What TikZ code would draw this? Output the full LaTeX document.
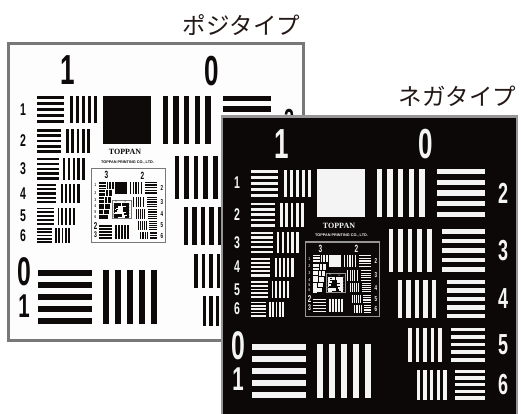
\documentclass[tikz,border=0pt]{standalone}
\usepackage{fontspec}
\newfontfamily\digf{Liberation Sans}
\newfontfamily\serf{Liberation Serif}
\newfontfamily\cjkf{Noto Sans CJK JP}
\definecolor{posfg}{RGB}{14,10,10}
\definecolor{posbg}{RGB}{253,253,253}
\definecolor{negfg}{RGB}{244,244,244}
\definecolor{negbg}{RGB}{12,8,8}
\definecolor{posframe}{RGB}{120,120,120}
\definecolor{negframe}{RGB}{150,150,150}
\definecolor{labc}{RGB}{35,24,21}
\tikzset{
  dig/.style={font=\digf\bfseries\fontsize{#1}{#1}\selectfont, inner sep=0pt, xscale=0.62, transform shape, text=fg},
  lab/.style={font=\cjkf\fontsize{23.5}{24}\selectfont, text=labc, inner sep=0pt},
  maker/.style={font=\serf\bfseries\fontsize{8}{8}\selectfont, text=fg, inner sep=0pt, transform shape},
  makersub/.style={font=\digf\bfseries\fontsize{3.8}{4}\selectfont, text=fg, inner sep=0pt, transform shape},
}
% horizontal / vertical bar elements: x, y (top-left), size
\newcommand\hb[3]{\foreach \k in {0,...,4}{\fill[fg] (#1,{#2+2*\k*#3/9}) rectangle ++(#3,{#3/9});}}
\newcommand\vb[3]{\foreach \k in {0,...,4}{\fill[fg] ({#1+2*\k*#3/9},#2) rectangle ++({#3/9},#3);}}
\newcommand\chartcontent[1]{%
  \fill[bg] (0,0) rectangle (295,\chH);
  \draw[fr, line width=\flw] (0,0) rectangle (295,\chH);
  \node[dig=42] (\chp-#1-tl) at (60,27.5) {\number\numexpr2*#1+1\relax};
  \node[dig=42] (\chp-#1-tr) at (204,28) {\number\numexpr2*#1\relax};
  % left group
  \hb{29}{53}{27}\vb{62}{53}{27}
  \hb{29}{86}{24}\vb{58}{86}{24}
  \hb{29}{115}{21.5}\vb{55}{115}{21.5}
  \hb{29}{141}{19}\vb{52.5}{141}{19}
  \hb{29}{164.5}{17}\vb{49.5}{164.5}{17}
  \hb{29}{185}{15}\vb{47}{185}{15}
  \foreach \n/\yy in {1/66.5,2/98,3/125.75,4/150.5,5/173,6/192.5}{
    \node[dig=17] (\chp-#1-r\n) at (15,\yy) {\n};}
  % white square
  \fill[fg] (95,52.5) rectangle ++(48,48);
  % right group
  \vb{154.5}{52.5}{48}\hb{214.5}{52.5}{48}
  \vb{166.5}{112.5}{43}\hb{220}{112.5}{43}
  \vb{176}{163.5}{38}\hb{225}{163.5}{38}
  \vb{186}{211}{34}\hb{229}{211}{34}
  \vb{194.5}{253}{30}\hb{233}{253}{30}
  \foreach \n/\yy in {2/76.5,3/134,4/182.5,5/228,6/268}{
    \node[dig=29] (\chp-#1-q\n) at (281,\yy) {\n};}
  % bottom-left element
  \hb{29.5}{227}{54}\vb{95}{227}{54}
  \node[dig=40] (\chp-#1-bl0) at (16,229) {\number\numexpr2*#1\relax};
  \node[dig=33] (\chp-#1-bl1) at (16,263) {\number\numexpr2*#1+1\relax};
  \ifnum#1=0
    \node[maker] (\chp-maker) at (117,109) {TOPPAN};
    \node[makersub] (\chp-makersub) at (119.5,119) {TOPPAN PRINTING CO., LTD.};
  \fi
}
\newcommand\chartall{%
  \chartcontent{0}
  \begin{scope}[shift={(83.5,125.5)},scale=0.25]
    \def\chH{297}\def\flw{1.4pt}
    \chartcontent{1}
    \begin{scope}[shift={(83.5,125.5)},scale=0.25]
      \def\flw{0.6pt}
      \chartcontent{2}
    \end{scope}
  \end{scope}}
\begin{document}
\begin{tikzpicture}[x=1pt,y=-1pt]
  \useasboundingbox (0,0) rectangle (521,413);
  \clip (0,0) rectangle (521,413);
  \fill[white] (0,0) rectangle (521,413);
  % positive chart
  \begin{scope}[shift={(8,43)}]
    \colorlet{fg}{posfg}\colorlet{bg}{posbg}\colorlet{fr}{posframe}
    \def\chp{pos}\def\chH{297}\def\flw{3pt}
    \chartall
  \end{scope}
  % negative chart
  \begin{scope}[shift={(222,116.5)}]
    \colorlet{fg}{negfg}\colorlet{bg}{negbg}\colorlet{fr}{negframe}
    \def\chp{neg}\def\chH{300}\def\flw{2.2pt}
    \chartall
  \end{scope}
  \node[lab] (poslab) at (241.5,25) {ポジタイプ};
  \node[lab] (neglab) at (457.5,96) {ネガタイプ};
\end{tikzpicture}
\end{document}
